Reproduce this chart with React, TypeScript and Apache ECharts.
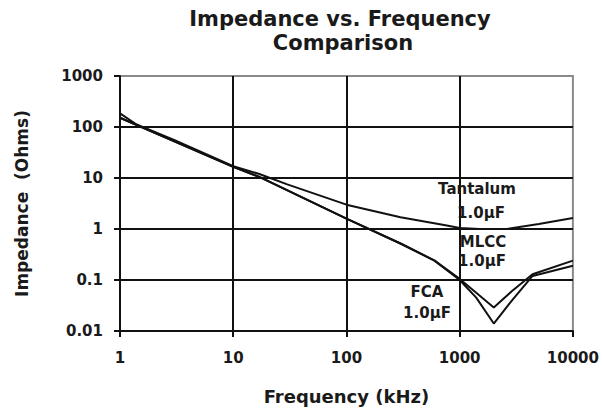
import React, { useEffect, useRef } from "react";
import * as echarts from "echarts";

const xTickValues = [1, 10, 100, 1000, 10000];
const xTickLabels = ["1", "10", "100", "1000", "10000"];
const yTickValues = [0.01, 0.1, 1, 10, 100, 1000];
const yTickLabels = ["0.01", "0.1", "1", "10", "100", "1000"];

const tantalumFreq = [1, 1.4, 3, 10, 17, 30, 100, 300, 770, 1000, 1500, 2600, 5000, 10000];
const tantalumZ = [185, 112, 56, 17, 12, 7.5, 3.0, 1.7, 1.17, 1.05, 1.0, 1.0, 1.25, 1.65];

const mlccFreq = [1, 10, 17, 100, 300, 600, 1000, 1400, 2000, 2900, 4400, 10000];
const mlccZ = [152, 16.5, 10.5, 1.6, 0.52, 0.24, 0.105, 0.056, 0.029, 0.061, 0.13, 0.24];

const fcaFreq = [1, 10, 17, 100, 300, 600, 1000, 1400, 2000, 2900, 4400, 10000];
const fcaZ = [152, 16.5, 10.5, 1.6, 0.52, 0.24, 0.1, 0.045, 0.014, 0.04, 0.12, 0.19];

const FONT = '"DejaVu Sans", "Liberation Sans", Arial, sans-serif';

function pairs(f: number[], v: number[]) {
  return f.map((x, i) => [x, v[i]]);
}

function pick(values: number[], labels: string[], v: number) {
  const i = values.findIndex((t) => Math.abs(Math.log10(t) - Math.log10(v)) < 1e-6);
  return i >= 0 ? labels[i] : "";
}

export default function App() {
  const ref = useRef<HTMLDivElement>(null);
  useEffect(() => {
    document.body.style.margin = "0";
    if (!ref.current) return;
    const chart = echarts.init(ref.current, null, { renderer: "svg" });
    const lineStyle = { color: "#111", width: 2 };
    const seriesBase = {
      type: "line" as const,
      showSymbol: false,
      symbol: "none",
      lineStyle,
      z: 5,
    };
    const label = (text: string, x: number, y: number) => ({
      type: "text",
      x,
      y,
      z: 10,
      style: {
        text,
        textAlign: "center",
        textVerticalAlign: "middle",
        font: `bold 15px ${FONT}`,
        fill: "#1a1a1a",
      },
    });
    chart.setOption({
      animation: false,
      backgroundColor: "#fff",
      grid: {
        left: 120,
        right: 29,
        top: 76,
        bottom: 78,
        show: true,
        borderColor: "#8a8a8a",
        borderWidth: 2,
      },
      xAxis: {
        type: "log",
        logBase: 10,
        min: 1,
        max: 10000,
        name: "Frequency (kHz)",
        nameLocation: "middle",
        nameGap: 56,
        nameTextStyle: { fontFamily: FONT, fontWeight: "bold", fontSize: 18, color: "#1a1a1a" },
        axisLine: { show: true, lineStyle: { color: "#111", width: 2 } },
        axisTick: { show: true, length: 6, lineStyle: { color: "#111", width: 2 } },
        minorTick: { show: false },
        axisLabel: {
          margin: 19,
          fontFamily: FONT,
          fontWeight: "bold",
          fontSize: 15,
          color: "#1a1a1a",
          formatter: (v: number) => pick(xTickValues, xTickLabels, v),
        },
        splitLine: { show: true, showMaxLine: false, lineStyle: { color: "#111", width: 2 } },
      },
      yAxis: {
        type: "log",
        logBase: 10,
        min: 0.01,
        max: 1000,
        name: "Impedance  (Ohms)",
        nameLocation: "middle",
        nameRotate: 90,
        nameGap: 90,
        nameTextStyle: { fontFamily: FONT, fontWeight: "bold", fontSize: 17, color: "#1a1a1a" },
        axisLine: { show: true, lineStyle: { color: "#111", width: 2 } },
        axisTick: { show: true, length: 6, lineStyle: { color: "#111", width: 2 } },
        axisLabel: {
          margin: 17,
          fontFamily: FONT,
          fontWeight: "bold",
          fontSize: 15,
          color: "#1a1a1a",
          formatter: (v: number) => pick(yTickValues, yTickLabels, v),
        },
        splitLine: { show: true, showMaxLine: false, lineStyle: { color: "#111", width: 2 } },
      },
      series: [
        { ...seriesBase, name: "Tantalum 1.0µF", data: pairs(tantalumFreq, tantalumZ) },
        { ...seriesBase, name: "MLCC 1.0µF", data: pairs(mlccFreq, mlccZ) },
        { ...seriesBase, name: "FCA 1.0µF", data: pairs(fcaFreq, fcaZ) },
      ],
      graphic: [
        {
          type: "text",
          x: 340,
          y: 19,
          style: {
            text: "Impedance vs. Frequency",
            textAlign: "center",
            textVerticalAlign: "middle",
            font: `bold 21px ${FONT}`,
            fill: "#1a1a1a",
          },
        },
        {
          type: "text",
          x: 343,
          y: 43,
          style: {
            text: "Comparison",
            textAlign: "center",
            textVerticalAlign: "middle",
            font: `bold 21px ${FONT}`,
            fill: "#1a1a1a",
          },
        },
        label("Tantalum", 477, 189),
        label("1.0µF", 481, 213),
        label("MLCC", 483, 242),
        label("1.0µF", 482, 261),
        label("FCA", 427, 292),
        label("1.0µF", 427, 313),
      ],
    });
    return () => chart.dispose();
  }, []);
  return <div ref={ref} style={{ width: 602, height: 410 }} />;
}
